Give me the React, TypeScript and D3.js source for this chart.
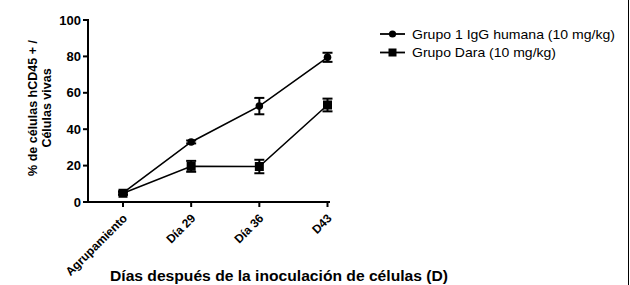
import React from "react";
import * as d3 from "d3";

const categories = ["Agrupamiento", "Día 29", "Día 36", "D43"];
const seriesNames = ["Grupo 1 IgG humana (10 mg/kg)", "Grupo Dara (10 mg/kg)"];
const iggMean = [5, 33, 52.7, 79.5];
const iggErr = [0.8, 0.8, 4.5, 2.5];
const daraMean = [4.8, 19.6, 19.5, 53.3];
const daraErr = [0.8, 3, 3.7, 3.5];
const yTicks = [0, 20, 40, 60, 80, 100];
const xTitle = "Días después de la inoculación de células (D)";
const yTitle1 = "% de células hCD45 + /";
const yTitle2 = "Células vivas";

export default function App() {
  const W = 630, H = 285;
  const x = d3.scaleLinear().domain([0, 3]).range([123, 327.5]);
  const y = d3.scaleLinear().domain([0, 100]).range([202, 20]);
  const axisX0 = 88, axisX1 = 330;
  const line = d3.line<number>().x((_, i) => x(i)).y((d) => y(d));
  const font = "Arial, 'Liberation Sans', sans-serif";

  const errBars = (mean: number[], err: number[], key: string) =>
    mean.map((m, i) => (
      <g key={key + i} stroke="#000" strokeWidth={2}>
        <line x1={x(i)} x2={x(i)} y1={y(m - err[i])} y2={y(m + err[i])} />
        <line x1={x(i) - 5} x2={x(i) + 5} y1={y(m - err[i])} y2={y(m - err[i])} />
        <line x1={x(i) - 5} x2={x(i) + 5} y1={y(m + err[i])} y2={y(m + err[i])} />
      </g>
    ));

  return (
    <svg width={W} height={H} style={{ position: "absolute", left: 0, top: 0, background: "#fff" }} fontFamily={font}>
      <rect x={0} y={0} width={W} height={H} fill="#fff" />
      <line x1={628.5} x2={628.5} y1={0} y2={H} stroke="#000" strokeWidth={1} />
      {/* y axis */}
      <line x1={axisX0} x2={axisX0} y1={y(100) - 1} y2={y(0) + 1} stroke="#000" strokeWidth={2} />
      {yTicks.map((t) => (
        <g key={t}>
          <line x1={axisX0 - 5} x2={axisX0} y1={y(t)} y2={y(t)} stroke="#000" strokeWidth={2} />
          <text x={axisX0 - 7} y={y(t)} dy="0.35em" textAnchor="end" fontSize={13} fontWeight="bold">{t}</text>
        </g>
      ))}
      {/* x axis */}
      <line x1={axisX0 - 1} x2={axisX1} y1={y(0)} y2={y(0)} stroke="#000" strokeWidth={2} />
      {categories.map((c, i) => (
        <g key={c}>
          <line x1={x(i)} x2={x(i)} y1={y(0)} y2={y(0) + 5} stroke="#000" strokeWidth={2} />
          <text transform={`translate(${x(i) + 5},${y(0) + 17}) rotate(-45)`} textAnchor="end" fontSize={12} fontWeight="bold">{c}</text>
        </g>
      ))}
      {/* titles */}
      <text x={279} y={281} textAnchor="middle" fontSize={14} fontWeight="bold" textLength={338} lengthAdjust="spacingAndGlyphs">{xTitle}</text>
      <text transform={`translate(37,108) rotate(-90)`} textAnchor="middle" fontSize={12.5} fontWeight="bold">{yTitle1}</text>
      <text transform={`translate(51,108) rotate(-90)`} textAnchor="middle" fontSize={12.5} fontWeight="bold">{yTitle2}</text>
      {/* series */}
      <path d={line(iggMean) || ""} fill="none" stroke="#000" strokeWidth={1.6} />
      <path d={line(daraMean) || ""} fill="none" stroke="#000" strokeWidth={1.6} />
      {errBars(iggMean, iggErr, "a")}
      {errBars(daraMean, daraErr, "b")}
      {iggMean.map((m, i) => (
        <circle key={"c" + i} cx={x(i)} cy={y(m)} r={3.8} fill="#000" />
      ))}
      {daraMean.map((m, i) => (
        <rect key={"s" + i} x={x(i) - 4.5} y={y(m) - 4.5} width={9} height={9} fill="#000" />
      ))}
      {/* legend */}
      <line x1={380} x2={405} y1={34} y2={34} stroke="#000" strokeWidth={1.8} />
      <circle cx={392.5} cy={34} r={3.6} fill="#000" />
      <text x={412} y={34} dy="0.35em" fontSize={13} textLength={203} lengthAdjust="spacingAndGlyphs">{seriesNames[0]}</text>
      <line x1={380} x2={405} y1={52.5} y2={52.5} stroke="#000" strokeWidth={1.8} />
      <rect x={388.5} y={48.5} width={8} height={8} fill="#000" />
      <text x={412} y={52.5} dy="0.35em" fontSize={13} textLength={144} lengthAdjust="spacingAndGlyphs">{seriesNames[1]}</text>
    </svg>
  );
}
